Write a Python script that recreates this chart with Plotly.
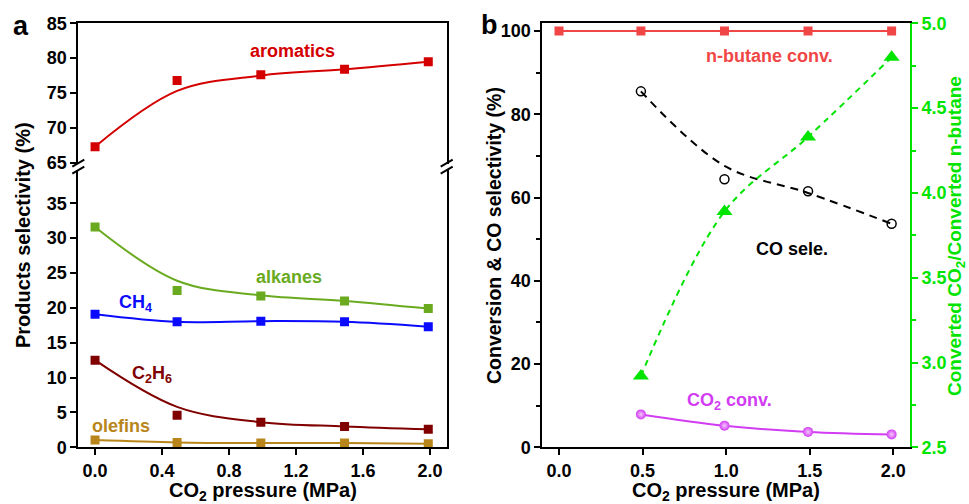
import plotly.graph_objects as go

# ---------------- data ----------------
pressure_a = [0.0, 0.49, 0.99, 1.49, 1.99]
aromatics = [67.3, 76.8, 77.6, 78.4, 79.5]
aromatics_fit = [67.3, 75.3, 77.5, 78.4, 79.5]
alkanes = [31.6, 22.5, 21.7, 21.0, 19.9]
alkanes_fit = [31.6, 23.9, 21.8, 21.0, 19.9]
ch4 = [19.1, 18.0, 18.1, 18.0, 17.3]
c2h6 = [12.5, 4.6, 3.6, 3.0, 2.6]
c2h6_fit = [12.5, 5.8, 3.6, 3.0, 2.6]
olefins = [1.05, 0.7, 0.6, 0.6, 0.5]

pressure_b_all = [0.0, 0.49, 0.99, 1.49, 1.99]
butane_conv = [100.0, 100.0, 100.0, 100.0, 100.0]
pressure_b = [0.49, 0.99, 1.49, 1.99]
co_sel = [85.5, 64.4, 61.5, 53.7]
co_sel_fit = [85.5, 67.6, 61.1, 53.7]
co2_conv = [7.9, 5.2, 3.7, 3.1]
co2_ratio = [2.92, 3.89, 4.33, 4.80]

ticks_a = [0.0, 0.4, 0.8, 1.2, 1.6, 2.0]
ticks_b = [0.0, 0.5, 1.0, 1.5, 2.0]

# ---------------- colours ----------------
C_ARO = "#d40000"
C_ALK = "#6aaa1e"
C_CH4 = "#0a0aff"
C_C2H6 = "#800000"
C_OLE = "#b8861a"
C_BUT = "#f04646"
C_CO = "#000000"
C_CO2 = "#d23cf2"
C_GRN = "#00e400"

W, H = 969, 504
def px(x):
    return x / W
def py(y):
    return 1 - y / H

FONT = "Liberation Sans, Arial, sans-serif"

fig = go.Figure()

def curve(x, y, color, xa, ya, dash=None, width=2):
    fig.add_trace(go.Scatter(x=x, y=y, mode="lines", xaxis=xa, yaxis=ya,
                             line=dict(color=color, width=width, shape="spline", dash=dash),
                             showlegend=False, hoverinfo="skip"))

def pts(x, y, color, xa, ya, symbol="square", size=9, **kw):
    fig.add_trace(go.Scatter(x=x, y=y, mode="markers", xaxis=xa, yaxis=ya,
                             marker=dict(color=color, symbol=symbol, size=size,
                                         line=dict(width=0), **kw),
                             showlegend=False))

# panel a - upper (aromatics)
curve(pressure_a, aromatics_fit, C_ARO, "x2", "y2")
pts(pressure_a, aromatics, C_ARO, "x2", "y2")
# panel a - lower
curve(pressure_a, alkanes_fit, C_ALK, "x", "y")
pts(pressure_a, alkanes, C_ALK, "x", "y")
curve(pressure_a, ch4, C_CH4, "x", "y")
pts(pressure_a, ch4, C_CH4, "x", "y")
curve(pressure_a, c2h6_fit, C_C2H6, "x", "y")
pts(pressure_a, c2h6, C_C2H6, "x", "y")
curve(pressure_a, olefins, C_OLE, "x", "y")
pts(pressure_a, olefins, C_OLE, "x", "y")

# panel b
fig.add_trace(go.Scatter(x=pressure_b_all, y=butane_conv, mode="lines+markers", xaxis="x3", yaxis="y3",
                         line=dict(color=C_BUT, width=2),
                         marker=dict(symbol="square", size=9, color=C_BUT),
                         showlegend=False))
curve(pressure_b, co_sel_fit, C_CO, "x3", "y3", dash="8px,6px")
fig.add_trace(go.Scatter(x=pressure_b, y=co_sel, mode="markers", xaxis="x3", yaxis="y3",
                         marker=dict(symbol="circle-open", size=9, color=C_CO, line=dict(width=1.5, color=C_CO)),
                         showlegend=False))
curve(pressure_b, co2_conv, C_CO2, "x3", "y3")
pts(pressure_b, co2_conv, C_CO2, "x3", "y3", symbol="circle", size=10,
    gradient=dict(type="radial", color="#f6c8ff"))
curve(pressure_b, co2_ratio, C_GRN, "x3", "y4", dash="6px,5px")
pts(pressure_b, co2_ratio, C_GRN, "x3", "y4", symbol="triangle-up", size=14)

# ---------------- axes ----------------
axis_common = dict(showgrid=False, zeroline=False, linecolor="black", linewidth=2,
                   ticks="outside", ticklen=6, tickwidth=2, tickcolor="black", automargin=False,
                   tickfont=dict(family=FONT, size=18, color="black", weight="bold"))

xa_dom = [px(78.3), px(446.7)]
xb_dom = [px(542.3), px(910)]
y_bot = py(447.3)
y_top = py(23.3)
y_up_bot = py(164)
y_lo_top = py(170)

fig.update_layout(
    width=W, height=H, margin=dict(l=0, r=0, t=0, b=0, pad=0, autoexpand=False),
    paper_bgcolor="white", plot_bgcolor="white",
    font=dict(family=FONT),
    xaxis=dict(axis_common, domain=xa_dom, anchor="y", range=[-0.1, 2.1],
               tickvals=ticks_a, tickformat=".1f", showline=True, mirror=False),
    yaxis=dict(axis_common, domain=[y_bot, y_lo_top], anchor="x", range=[0, 39.78],
               tickvals=[0, 5, 10, 15, 20, 25, 30, 35],
               showline=True, mirror=True),
    xaxis2=dict(axis_common, domain=xa_dom, anchor="y2", range=[-0.1, 2.1], side="top",
                showticklabels=False, ticks="", showline=True, mirror=False),
    yaxis2=dict(axis_common, domain=[y_up_bot, y_top], anchor="x2", range=[64.81, 85],
                tickvals=[65, 70, 75, 80, 85], showline=True, mirror=True),
    xaxis3=dict(axis_common, domain=xb_dom, anchor="y3", range=[-0.1, 2.1],
                tickvals=ticks_b, tickformat=".1f", showline=True, mirror=True),
    yaxis3=dict(axis_common, domain=[y_bot, y_top], anchor="x3", range=[0, 101.85],
                tickvals=[0, 20, 40, 60, 80, 100], showline=True, mirror=False,
                minor=dict(tickvals=[10, 30, 50, 70, 90], ticklen=4, tickwidth=2,
                           ticks="outside", tickcolor="black")),
    yaxis4=dict(axis_common, domain=[y_bot, y_top], anchor="x3", overlaying="y3", side="right",
                range=[2.5, 5.0], tickvals=[2.5, 3.0, 3.5, 4.0, 4.5, 5.0], tickformat=".1f",
                linecolor=C_GRN, tickcolor=C_GRN, showline=True,
                tickfont=dict(family=FONT, size=18, color=C_GRN, weight="bold"),
                minor=dict(tickvals=[2.75, 3.25, 3.75, 4.25, 4.75], ticklen=4, tickwidth=2,
                           ticks="outside", tickcolor=C_GRN)),
)

# ---------------- annotations ----------------
def lab(text, x, y, color, xref, yref, size=18):
    fig.add_annotation(text=f"<b>{text}</b>", x=x, y=y, xref=xref, yref=yref,
                       showarrow=False, xanchor="center", yanchor="middle",
                       font=dict(family=FONT, size=size, color=color))

lab("aromatics", 1.18, 81.0, C_ARO, "x2", "y2")
lab("alkanes", 1.16, 24.4, C_ALK, "x", "y")
lab("CH<sub>4</sub>", 0.24, 20.6, C_CH4, "x", "y")
lab("C<sub>2</sub>H<sub>6</sub>", 0.34, 10.4, C_C2H6, "x", "y")
lab("olefins", 0.155, 3.1, C_OLE, "x", "y")
lab("n-butane conv.", 1.257, 94.1, C_BUT, "x3", "y3")
lab("CO sele.", 1.396, 47.6, C_CO, "x3", "y3")
lab("CO<sub>2</sub> conv.", 1.021, 11.0, C_CO2, "x3", "y3")

def title(text, x, y, color="black", angle=0, size=20):
    fig.add_annotation(text=f"<b>{text}</b>", x=px(x), y=py(y), xref="paper", yref="paper",
                       showarrow=False, xanchor="center", yanchor="middle", textangle=angle,
                       font=dict(family=FONT, size=size, color=color))

title("Products selectivity (%)", 23, 235, angle=-90)
title("CO<sub>2</sub> pressure (MPa)", 262.5, 491)
title("CO<sub>2</sub> pressure (MPa)", 726, 491)
title("Conversion &amp; CO selectivity (%)", 494, 235, angle=-90, size=19.5)
title("Converted CO<sub>2</sub>/Converted n-butane", 956, 236, color=C_GRN, angle=-90, size=19)
title("a", 21, 26, size=27)
title("b", 489, 25, size=27)

# ---------------- axis break marks ----------------
for xb in (78.3, 446.7):
    fig.add_shape(type="line", xref="paper", yref="paper",
                  x0=px(xb), x1=px(xb), y0=py(164), y1=py(170),
                  line=dict(color="white", width=4))
    for yc in (163.2, 170.2):
        fig.add_shape(type="line", xref="paper", yref="paper",
                      x0=px(xb - 6), y0=py(yc + 3.5), x1=px(xb + 6), y1=py(yc - 3.5),
                      line=dict(color="black", width=2))

fig.write_html("out.html")
